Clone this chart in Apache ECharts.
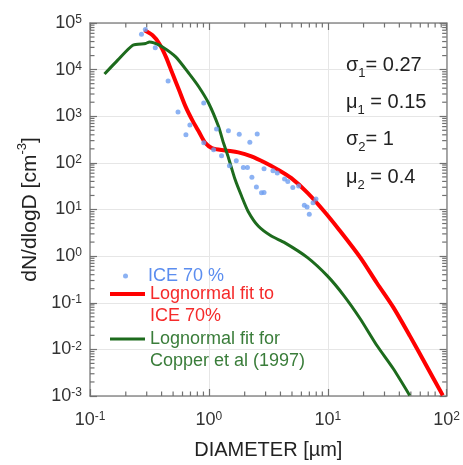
<!DOCTYPE html>
<html><head><meta charset="utf-8">
<script src="https://cdn.jsdelivr.net/npm/echarts@6/dist/echarts.min.js"></script>
<style>html,body{margin:0;padding:0;background:#fff}#c{width:463px;height:465px}</style>
</head><body><div id="c"></div>
<script>
// ---- data ----
const iceD = [0.271,0.292,0.354,0.454,0.550,0.641,0.692,0.905,0.905,1.096,1.16,1.278,1.46,1.489,1.70,1.80,1.95,2.11,2.21,2.30,2.51,2.55,2.77,2.91,2.91,3.46,3.76,4.33,4.61,5.08,5.69,6.35,6.70,6.99,7.52,7.96];
const iceN = [57400,72300,29500,5690,1240,400,653,1930,270,191,530,143,486,87,111,410,80,80,277,49,30.3,414,22.8,23.1,75,68,61,45,40,29.5,32,12.3,11.3,7.9,13.9,16.8];

const redD = [0.287,0.336,0.382,0.435,0.493,0.561,0.637,0.723,0.822,0.935,1.061,1.372,1.77,2.28,2.95,3.81,4.91,6.76,9.31,12.4,18.8,25.9,35.6,48.9,67.4,92.8];
const redN = [69800,54600,36300,18800,8320,3660,1610,836,470,266,208,185,168,138,102,71.6,47.5,22.8,9.2,3.74,0.93,0.265,0.0796,0.0197,0.00451,0.00103];

const greenD = [0.1325,0.171,0.229,0.294,0.316,0.345,0.407,0.526,0.679,0.822,0.996,1.206,1.328,1.461,1.662,1.886,2.14,2.60,3.35,4.33,6.76,9.92,13.7,18.8,25.9,35.6,48.9];
const greenN = [8040,15980,33400,36300,39300,37400,30700,18800,8320,4300,1900,601,266,129,43.8,19.2,9.08,4.41,2.69,1.95,0.931,0.377,0.141,0.0449,0.0121,0.00384,0.00103];

const seriesNames = ['ICE 70 %', 'Lognormal fit to\nICE 70%', 'Lognormal fit for\nCopper et al (1997)'];
const params = [['σ','1','= 0.27'],['μ','1',' = 0.15'],['σ','2','= 1'],['μ','2',' = 0.4']];
const xRange = [0.1, 100];
const yRange = [1e-3, 1e5];
const minorMult = [2,3,4,5,6,7,8,9];

// ---- helpers ----
const FF = '"Liberation Sans", Arial, sans-serif';
const lg = v => Math.log10(v);
// minor tick values (axis decoration only)
function minorVals(r){
  const out=[]; const e0=Math.round(lg(r[0])), e1=Math.round(lg(r[1]));
  for(let e=e0;e<e1;e++) for(const m of minorMult) out.push(+(m*Math.pow(10,e)).toPrecision(3));
  return out;
}
const frameLine = {show:true, onZero:false, lineStyle:{color:'#8c8c8c', width:1.5}};
const tickCol = {color:'#707070', width:1.2};
const labelRich = {
  b:{fontSize:18, lineHeight:18, padding:[4,0,4,0], color:'#333', fontFamily:FF},
  s:{fontSize:12, lineHeight:11, verticalAlign:'top', color:'#333', fontFamily:FF}
};
const fmt = v => '{b|10}{s|' + Math.round(lg(v)) + '}';

function mainAxis(range, pos, extra){
  return Object.assign({type:'log', logBase:10, min:range[0], max:range[1], position:pos,
    axisLine:frameLine, axisTick:{show:true, inside:true, length:7, lineStyle:tickCol},
    splitLine:{show:false}, axisLabel:{show:false}}, extra||{});
}
const TICK = 4.5;
function tickLine(x1,y1,x2,y2){
  return {type:'line', shape:{x1,y1,x2,y2}, style:{stroke:'#707070', lineWidth:1.2}};
}

const chart = echarts.init(document.getElementById('c'), null, {renderer:'canvas'});
const option = {
  animation:false,
  backgroundColor:'#fff',
  grid:{left:90, right:12, top:23, bottom:68, containLabel:false},
  xAxis:[
    mainAxis(xRange,'bottom',{
      splitLine:{show:true, lineStyle:{color:'#e6e6e6', width:1}},
      axisLabel:{show:true, margin:15, formatter:fmt, rich:labelRich},
      name:'DIAMETER [µm]', nameLocation:'middle', nameGap:44,
      nameTextStyle:{fontSize:20, color:'#222', fontFamily:FF}
    }),
    mainAxis(xRange,'top')
  ],
  yAxis:[
    mainAxis(yRange,'left',{
      splitLine:{show:true, lineStyle:{color:'#e6e6e6', width:1}},
      axisLabel:{show:true, margin:8, formatter:fmt, rich:labelRich},
      name:'{a|dN/dlogD [cm}{s|-3}{a|]}', nameLocation:'middle', nameGap:50,
      nameTextStyle:{rich:{
        a:{fontSize:21, lineHeight:21, padding:[6,0,0,0], color:'#222', fontFamily:FF},
        s:{fontSize:13, lineHeight:13, verticalAlign:'top', color:'#222', fontFamily:FF}
      }}
    }),
    mainAxis(yRange,'right')
  ],
  legend:[
    {data:[{name:seriesNames[0], icon:'circle'}], left:123, top:267, padding:0, orient:'vertical',
     itemWidth:35, itemHeight:5, selectedMode:false,
     textStyle:{fontSize:18, color:'#5b8def', fontFamily:FF}},
    {data:[{name:seriesNames[1], icon:'rect'}], left:110, top:261, padding:0, orient:'vertical',
     itemWidth:35, itemHeight:4, selectedMode:false, formatter: n => ' \n' + n,
     textStyle:{fontSize:18, lineHeight:22, color:'#f52a2a', fontFamily:FF}},
    {data:[{name:seriesNames[2], icon:'rect'}], left:110, top:306, padding:0, orient:'vertical',
     itemWidth:35, itemHeight:3, selectedMode:false, formatter: n => ' \n' + n,
     textStyle:{fontSize:18, lineHeight:22, color:'#3a7d3a', fontFamily:FF}}
  ],
  graphic: params.map((p,i)=>({
    type:'text', x:346, y:[65,102,139,177][i]+4, z:10,
    style:{
      text:'{m|'+p[0]+'}{s|'+p[1]+'}{m|'+p[2]+'}',
      align:'left', verticalAlign:'middle',
      rich:{
        m:{fontSize:20, lineHeight:22, padding:[0,0,8,0], fill:'#222', fontFamily:FF},
        s:{fontSize:13, lineHeight:14, verticalAlign:'bottom', fill:'#222', fontFamily:FF}
      }
    }
  })),
  series:[
    // minor ticks on bottom/top edges (decoration placed through the x scale)
    {type:'custom', name:'xminor', silent:true, xAxisIndex:0, yAxisIndex:0, z:1, clip:false,
     data:minorVals(xRange).map(v=>[v, yRange[0]]),
     renderItem:(p, api)=>{
       const b = api.coord([api.value(0), yRange[0]]), t = api.coord([api.value(0), yRange[1]]);
       return {type:'group', children:[tickLine(b[0],b[1],b[0],b[1]-TICK), tickLine(t[0],t[1],t[0],t[1]+TICK)]};
     }},
    // minor ticks on left/right edges (decoration placed through the y scale)
    {type:'custom', name:'yminor', silent:true, xAxisIndex:0, yAxisIndex:0, z:1, clip:false,
     data:minorVals(yRange).map(v=>[xRange[0], v]),
     renderItem:(p, api)=>{
       const l = api.coord([xRange[0], api.value(1)]), r = api.coord([xRange[1], api.value(1)]);
       return {type:'group', children:[tickLine(l[0],l[1],l[0]+TICK,l[1]), tickLine(r[0],r[1],r[0]-TICK,r[1])]};
     }},
    {name:seriesNames[1], type:'line', xAxisIndex:0, yAxisIndex:0, symbol:'none', smooth:0.3,
     data:redD.map((d,i)=>[d,redN[i]]), lineStyle:{color:'#ff0000', width:4}, itemStyle:{color:'#ff0000'}, z:2},
    {name:seriesNames[2], type:'line', xAxisIndex:0, yAxisIndex:0, symbol:'none', smooth:0.2,
     data:greenD.map((d,i)=>[d,greenN[i]]), lineStyle:{color:'#1d6b1d', width:3}, itemStyle:{color:'#1d6b1d'}, z:3},
    {name:seriesNames[0], type:'scatter', xAxisIndex:0, yAxisIndex:0, symbol:'circle', symbolSize:5,
     data:iceD.map((d,i)=>[d,iceN[i]]), itemStyle:{color:'#6f9ff0'}, z:4}
  ]
};
chart.setOption(option);
</script></body></html>
